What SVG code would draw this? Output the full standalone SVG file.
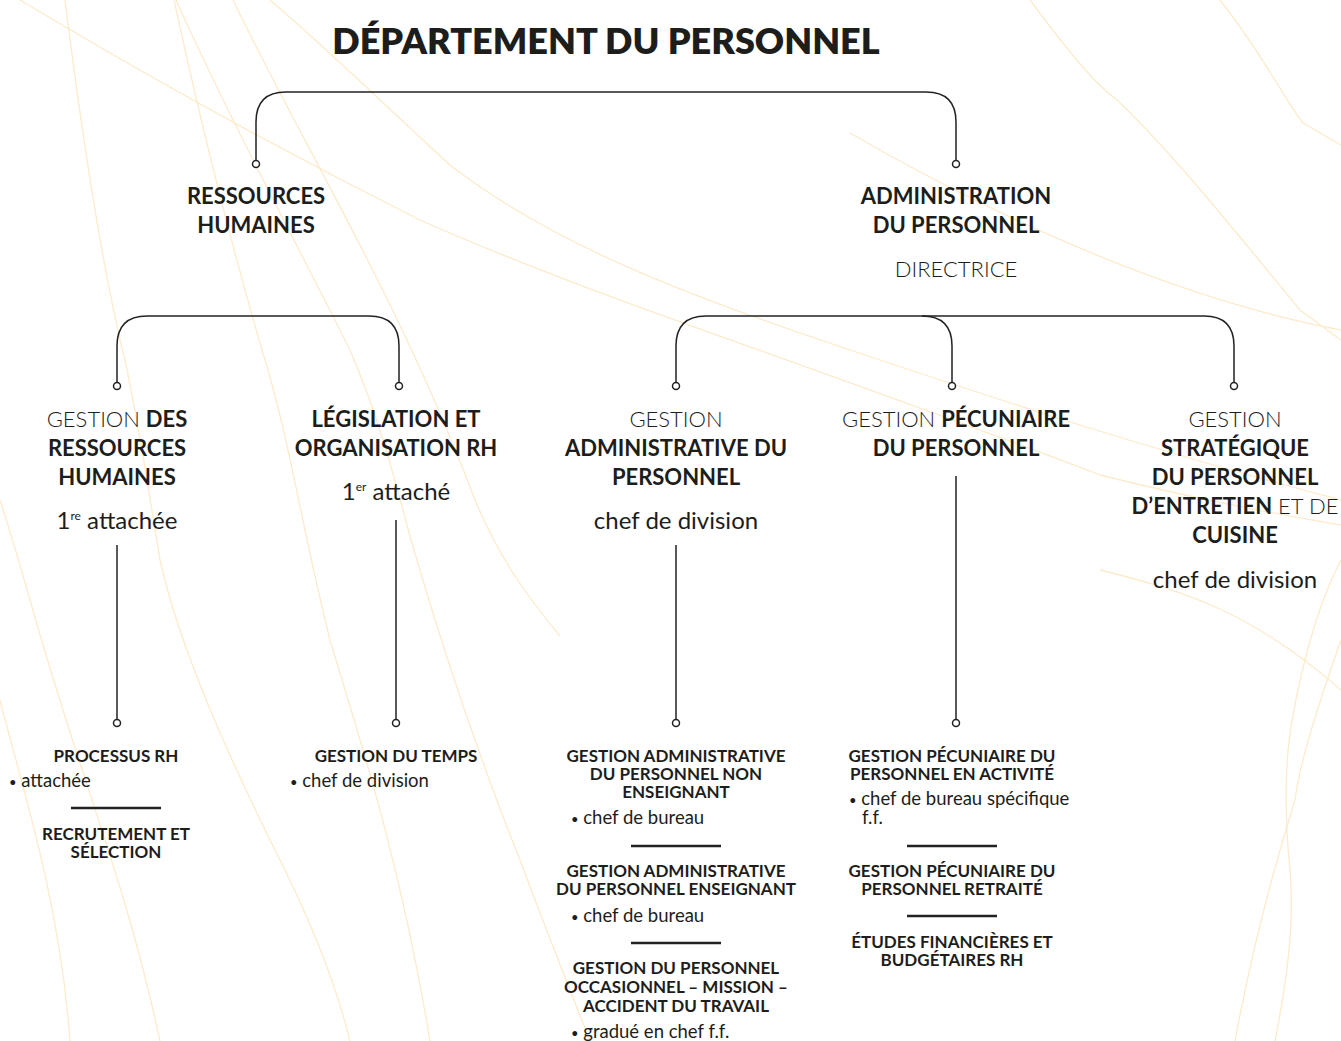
<svg xmlns="http://www.w3.org/2000/svg" width="1341" height="1041" viewBox="0 0 1341 1041">
<style>
  text { font-family: Lato, "Open Sans", "Liberation Sans", sans-serif; fill: #1d1d1b; text-anchor: middle; }
  .title { font-size: 36px; font-weight: 800; }
  .b1 { font-size: 22px; font-weight: 700; }
  .l1 { font-size: 22px; font-weight: 300; }
  .r1 { font-size: 24px; font-weight: 400; }
  .b3 { font-size: 17px; font-weight: 700; }
  .r3 { font-size: 18.5px; font-weight: 400; text-anchor: start; }
  .bul { font-size: 13px; }
  .bold { font-weight: 700; }
  .bg path { fill: none; stroke: #fcebcc; stroke-width: 1.3; }
  .conn path, .conn line { fill: none; stroke: #222; stroke-width: 1.5; }
  .dot { fill: #fff; stroke: #222; stroke-width: 1.5; }
  .sep { stroke: #222; stroke-width: 2.5; }
</style>
<rect width="1341" height="1041" fill="#ffffff"/>
<g class="bg">
  <path d="M65,0 C80,120 100,260 125,360 C140,430 150,500 160,560 C180,650 230,760 280,860 C320,940 340,1000 350,1041"/>
  <path d="M0,500 C20,560 40,640 60,700 C90,800 130,900 160,1041"/>
  <path d="M174,0 C200,120 230,240 262,350 C290,440 300,520 330,640 C360,740 400,860 430,1041"/>
  <path d="M176,0 C230,120 300,250 350,350 C380,420 395,480 411,540 C440,640 480,760 520,860 C550,940 570,990 590,1041"/>
  <path d="M233,0 C300,140 400,300 475,500 C500,560 530,600 560,636"/>
  <path d="M270,0 C340,60 400,120 450,165 C560,250 700,300 880,360 C1000,400 1150,450 1341,500"/>
  <path d="M20,0 C120,60 260,140 420,220 C600,300 800,360 1100,475 C1200,500 1280,515 1341,525"/>
  <path d="M1030,0 C1060,40 1090,80 1117,100 C1180,160 1250,250 1300,310 L1341,340"/>
  <path d="M1220,0 C1260,50 1285,100 1303,123 L1341,145"/>
  <path d="M850,133 C1000,220 1180,300 1341,330"/>
  <path d="M1100,570 C1180,590 1250,610 1341,690"/>
  <path d="M1341,560 C1320,600 1310,640 1305,660 C1290,720 1280,770 1290,870 C1295,930 1285,990 1275,1041"/>
  <path d="M1341,640 C1320,700 1300,760 1295,800 C1270,880 1250,960 1235,1041"/>
  <path d="M0,700 C20,780 60,900 70,1041"/>
</g>

<g id="title">
  <text class="title" x="606" y="54">DÉPARTEMENT DU PERSONNEL</text>
</g>

<g class="conn" id="connectors">
  <path d="M256,160.5 V122 Q256,92 286,92 H926 Q956,92 956,122 V160.5"/>
  <path d="M117,382.5 V346 Q117,316 147,316 H369 Q399,316 399,346 V382.5"/>
  <path d="M676,382.5 V346 Q676,316 706,316 H1204 Q1234,316 1234,346 V382.5"/>
  <path d="M922,316 Q952,316 952,346 V382.5"/>
  <line x1="117" y1="545" x2="117" y2="719.5"/>
  <line x1="396" y1="520" x2="396" y2="719.5"/>
  <line x1="676" y1="545" x2="676" y2="719.5"/>
  <line x1="956" y1="476" x2="956" y2="719.5"/>
  <circle class="dot" cx="256" cy="164" r="3.5"/>
  <circle class="dot" cx="956" cy="164" r="3.5"/>
  <circle class="dot" cx="117" cy="386" r="3.5"/>
  <circle class="dot" cx="399" cy="386" r="3.5"/>
  <circle class="dot" cx="676" cy="386" r="3.5"/>
  <circle class="dot" cx="952" cy="386" r="3.5"/>
  <circle class="dot" cx="1234" cy="386" r="3.5"/>
  <circle class="dot" cx="117" cy="723" r="3.5"/>
  <circle class="dot" cx="396" cy="723" r="3.5"/>
  <circle class="dot" cx="676" cy="723" r="3.5"/>
  <circle class="dot" cx="956" cy="723" r="3.5"/>
</g>

<g id="rh">
  <text class="b1" x="256" y="204">RESSOURCES<tspan x="256" dy="29">HUMAINES</tspan></text>
</g>
<g id="admin">
  <text class="b1" x="956" y="204">ADMINISTRATION<tspan x="956" dy="29">DU PERSONNEL</tspan></text>
  <text class="l1" x="956" y="277">DIRECTRICE</text>
</g>

<g id="grh">
  <text class="l1" x="117" y="427">GESTION <tspan class="bold">DES</tspan><tspan class="bold" x="117" dy="29">RESSOURCES</tspan><tspan class="bold" x="117" dy="29">HUMAINES</tspan></text>
  <text class="r1" x="117" y="529">1<tspan font-size="12" dy="-9">re</tspan><tspan dy="9"> attachée</tspan></text>
</g>
<g id="legis">
  <text class="b1" x="396" y="427">LÉGISLATION ET<tspan x="396" dy="29">ORGANISATION RH</tspan></text>
  <text class="r1" x="396" y="500">1<tspan font-size="12" dy="-9">er</tspan><tspan dy="9"> attaché</tspan></text>
</g>
<g id="gadm">
  <text class="l1" x="676" y="427">GESTION<tspan class="bold" x="676" dy="29">ADMINISTRATIVE DU</tspan><tspan class="bold" x="676" dy="29">PERSONNEL</tspan></text>
  <text class="r1" x="676" y="529">chef de division</text>
</g>
<g id="gpec">
  <text class="l1" x="956" y="427">GESTION <tspan class="bold">PÉCUNIAIRE</tspan><tspan class="bold" x="956" dy="29">DU PERSONNEL</tspan></text>
</g>
<g id="gstrat">
  <text class="l1" x="1235" y="427">GESTION<tspan class="bold" x="1235" dy="29">STRATÉGIQUE</tspan><tspan class="bold" x="1235" dy="29">DU PERSONNEL</tspan><tspan class="bold" x="1235" dy="29">D’ENTRETIEN</tspan> ET DE<tspan class="bold" x="1235" dy="29">CUISINE</tspan></text>
  <text class="r1" x="1235" y="588">chef de division</text>
</g>

<g id="processus">
  <text class="b3" x="116" y="762">PROCESSUS RH</text>
  <text class="r3" x="9" y="787"><tspan class="bul">•</tspan>  attachée</text>
  <line class="sep" x1="71" y1="808" x2="161" y2="808"/>
  <text class="b3" x="116" y="840">RECRUTEMENT ET<tspan x="116" dy="18">SÉLECTION</tspan></text>
</g>
<g id="temps">
  <text class="b3" x="396" y="762">GESTION DU TEMPS</text>
  <text class="r3" x="290" y="787"><tspan class="bul">•</tspan>  chef de division</text>
</g>
<g id="gadm-sub">
  <text class="b3" x="676" y="762">GESTION ADMINISTRATIVE<tspan x="676" dy="18">DU PERSONNEL NON</tspan><tspan x="676" dy="18">ENSEIGNANT</tspan></text>
  <text class="r3" x="571" y="824"><tspan class="bul">•</tspan>  chef de bureau</text>
  <line class="sep" x1="631" y1="846" x2="721" y2="846"/>
  <text class="b3" x="676" y="877">GESTION ADMINISTRATIVE<tspan x="676" dy="18">DU PERSONNEL ENSEIGNANT</tspan></text>
  <text class="r3" x="571" y="922"><tspan class="bul">•</tspan>  chef de bureau</text>
  <line class="sep" x1="631" y1="943" x2="721" y2="943"/>
  <text class="b3" x="676" y="974">GESTION DU PERSONNEL<tspan x="676" dy="19">OCCASIONNEL – MISSION –</tspan><tspan x="676" dy="19">ACCIDENT DU TRAVAIL</tspan></text>
  <text class="r3" x="571" y="1038"><tspan class="bul">•</tspan>  gradué en chef f.f.</text>
</g>
<g id="gpec-sub">
  <text class="b3" x="952" y="762">GESTION PÉCUNIAIRE DU<tspan x="952" dy="18">PERSONNEL EN ACTIVITÉ</tspan></text>
  <text class="r3" x="849" y="805"><tspan class="bul">•</tspan>  chef de bureau spécifique<tspan x="862" dy="19">f.f.</tspan></text>
  <line class="sep" x1="907" y1="846" x2="997" y2="846"/>
  <text class="b3" x="952" y="877">GESTION PÉCUNIAIRE DU<tspan x="952" dy="18">PERSONNEL RETRAITÉ</tspan></text>
  <line class="sep" x1="907" y1="916" x2="997" y2="916"/>
  <text class="b3" x="952" y="948">ÉTUDES FINANCIÈRES ET<tspan x="952" dy="18">BUDGÉTAIRES RH</tspan></text>
</g>
</svg>
